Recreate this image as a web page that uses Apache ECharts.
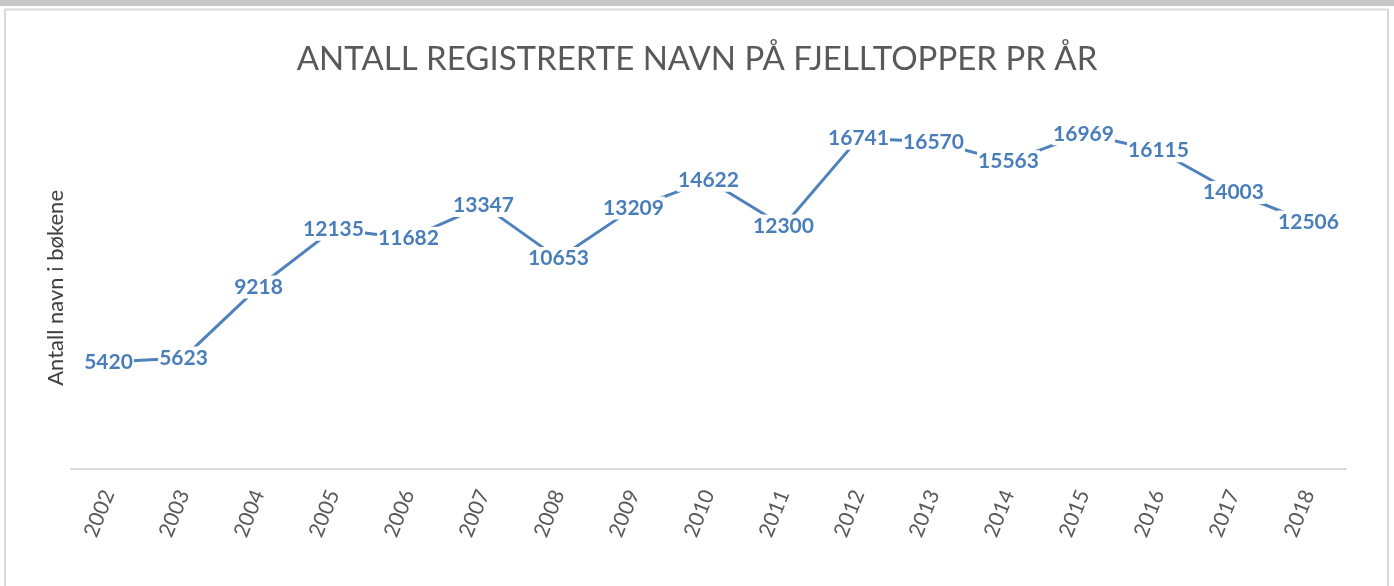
<!DOCTYPE html>
<html>
<head>
<meta charset="utf-8">
<script src="https://cdn.jsdelivr.net/npm/echarts@6/dist/echarts.min.js"></script>
<style>
html,body{margin:0;padding:0;background:#fff;}
#chart{width:1394px;height:586px;}
</style>
</head>
<body>
<div id="chart"></div>
<script>
const years = ['2002','2003','2004','2005','2006','2007','2008','2009','2010','2011','2012','2013','2014','2015','2016','2017','2018'];
const names = [5420, 5623, 9218, 12135, 11682, 13347, 10653, 13209, 14622, 12300, 16741, 16570, 15563, 16969, 16115, 14003, 12506];
const titleText = 'ANTALL REGISTRERTE NAVN PÅ FJELLTOPPER PR ÅR';
const yName = 'Antall navn i bøkene';

const chart = echarts.init(document.getElementById('chart'), null, {renderer:'canvas'});
chart.setOption({
  animation: false,
  backgroundColor: '#ffffff',
  title: {
    text: titleText,
    left: 'center',
    top: 38,
    textStyle: {fontFamily: 'Lato', fontWeight: 'normal', fontSize: 33, color: '#595959'}
  },
  graphic: [
    {type:'rect', shape:{x:0,y:0,width:1394,height:6}, style:{fill:'#c6c6c6'}, z:0},
    {type:'rect', shape:{x:5,y:9.5,width:1383,height:590}, style:{fill:'none', stroke:'#d9d9d9', lineWidth:2}, z:0},
    {type:'text', left: 45, top: 190, rotation: Math.PI/2,
      style:{text: yName, fontFamily:'Lato', fontSize:22, fill:'#404040'}}
  ],
  grid: {left: 71, right: 48, top: 74, bottom: 117, containLabel: false},
  xAxis: {
    type: 'category',
    data: years,
    boundaryGap: true,
    axisLine: {show: true, lineStyle: {color: '#d9d9d9', width: 2}},
    axisTick: {show: false},
    axisLabel: {rotate: 68, margin: 22, fontFamily: 'Lato', fontSize: 21, color: '#595959'}
  },
  yAxis: {
    type: 'value',
    min: 0, max: 20000, interval: 5000,
    axisLine: {show: false},
    axisTick: {show: false},
    axisLabel: {show: false},
    splitLine: {show: false}
  },
  series: [{
    type: 'line',
    data: names,
    symbol: 'circle',
    symbolSize: 0,
    lineStyle: {color: '#4f81bd', width: 3},
    itemStyle: {color: '#4f81bd'},
    label: {
      show: true,
      position: 'inside',
      fontFamily: 'Lato',
      fontWeight: 'bold',
      fontSize: 21,
      color: '#4a7ebb',
      backgroundColor: '#ffffff',
      padding: [1, 1]
    }
  }]
});
</script>
</body>
</html>
